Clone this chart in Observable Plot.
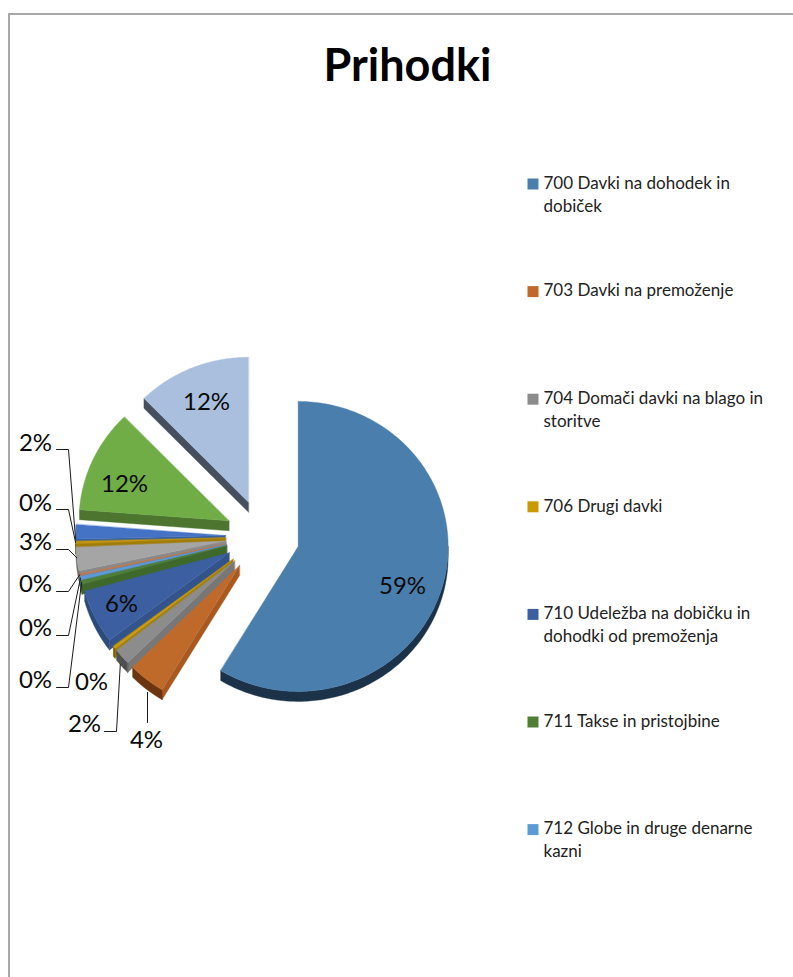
<!DOCTYPE html>
<html lang="sl">
<head>
<meta charset="utf-8">
<script src="https://cdn.jsdelivr.net/npm/d3@7"></script>
<script src="https://cdn.jsdelivr.net/npm/@observablehq/plot@0.6"></script>
<style>
html,body{margin:0;padding:0;background:#fff;overflow:hidden}
#frame{position:absolute;left:8px;top:13px;right:0;bottom:0;border-left:2px solid #a8a8a8;border-top:2px solid #a8a8a8}
#chart{position:absolute;left:0;top:0}
#chart svg{display:block;background:transparent}
</style>
</head>
<body>
<div id="frame"></div>
<div id="chart"></div>
<script>
// ---- data ----
const titleText = "Prihodki";
const legendNames = [
  "700 Davki na dohodek in\ndobiček",
  "703 Davki na premoženje",
  "704 Domači davki na blago in\nstoritve",
  "706 Drugi davki",
  "710 Udeležba na dobičku in\ndohodki od premoženja",
  "711 Takse in pristojbine",
  "712 Globe in druge denarne\nkazni"
];
const sliceValues = [58.7, 4.0, 1.8, 0.3, 6.0, 0.4, 0.4, 0.2, 2.6, 0.3, 1.6, 11.5, 12.3];
const sliceTop   = ["#4a7ead","#bf692b","#8c8c8c","#c99a06","#3b5fa0","#4e7f35","#5b9bd5","#c0784c","#a5a5a5","#c4960c","#4472c4","#70ad47","#a9bfdd"];
const sliceSide  = ["#1b3249","#a9591f","#777777","#a67f05","#32538c","#3f682b","#4a82b4","#a5623a","#8a8a8a","#a27c08","#37609f","#4d7530","#454f5e"];
const sliceRim   = ["#1b3249","#6b3510","#4f4f4f","#7a5e04","#2c4a7a","#33531f","#3a6890","#7c4a2c","#6b6b6b","#7a5e05","#2d4f8a","#3d5c26","#3c4653"];

// ---- layout (pie geometry and where the labels sit) ----
const pie = {cx: 262, cy: 536, rx: 150, ry: 145, explode: 37, depth: 10};
const inside = [
  {i: 0, x: 402, y: 586},
  {i: 4, x: 121, y: 604},
  {i: 11, x: 124, y: 484},
  {i: 12, x: 206, y: 402}
];
// label anchor, elbow x and how far along the slice's outer arc the leader ends
const outside = [
  {i: 10, x: 35, y: 443, ex: 56, elbow: 68, ly: 449, f: 0, wall: 0},
  {i: 9,  x: 35, y: 503, ex: 56, elbow: 68, ly: 509, f: 0.5, wall: 0},
  {i: 8,  x: 35, y: 542, ex: 56, elbow: 68, ly: 549, f: 0.55, wall: 0},
  {i: 7,  x: 35, y: 584, ex: 56, elbow: 68, ly: 591, f: 0.5, wall: 0},
  {i: 6,  x: 35, y: 628, ex: 56, elbow: 68, ly: 635, f: 0.5, wall: 0},
  {i: 5,  x: 35, y: 680, ex: 56, elbow: 68, ly: 687, f: 0.5, wall: 0},
  {i: 2,  x: 84, y: 724, ex: 104, elbow: 116, ly: 731, f: 0.65, wall: 1}
];
const free = [{i: 3, x: 91, y: 682}];
const straight = [{i: 1, x: 146, y: 740, ex: 147, ey: 722, f: 0.36, wall: 1}];
const legendLayout = {sx: 532.5, tx: 543, y0: 183.5, step: 107.6};

const FONT = "Lato, 'Open Sans', sans-serif";

// ---- geometry from the values ----
const arcs = d3.pie().sort(null).startAngle(0).endAngle(2 * Math.PI)(sliceValues);
const slices = arcs.map((a, i) => {
  const mid = (a.startAngle + a.endAngle) / 2;
  return {
    i, a0: a.startAngle, a1: a.endAngle,
    ax: pie.cx + pie.explode * Math.sin(mid),
    ay: pie.cy - pie.explode * Math.cos(mid)
  };
});
const rimPoint = (s, a, dy = 0) => ({x: s.ax + pie.rx * Math.sin(a), y: s.ay - pie.ry * Math.cos(a) + dy});
const arcPts = (s, a0, a1, dy = 0) => {
  const n = Math.max(2, Math.ceil((a1 - a0) * 60));
  return d3.range(n + 1).map(k => rimPoint(s, a0 + (a1 - a0) * k / n, dy));
};
const polys = [];
const pushPoly = (id, color, pts) => pts.forEach(p => polys.push({id, color, x: p.x, y: p.y}));
// far slices first, so that the nearer ones cover them
[...slices].reverse().forEach(s => {
  const {i, a0, a1, ax, ay} = s;
  const d = pie.depth;
  if (a0 > Math.PI) {
    const o = rimPoint(s, a0);
    pushPoly(`s${i}`, sliceSide[i], [{x: ax, y: ay}, o, {x: o.x, y: o.y + d}, {x: ax, y: ay + d}]);
  }
  const lo = Math.max(a0, Math.PI / 2), hi = Math.min(a1, 3 * Math.PI / 2);
  if (hi > lo) {
    pushPoly(`r${i}`, sliceRim[i], [...arcPts(s, lo, hi), ...arcPts(s, lo, hi, d).reverse()]);
  }
  pushPoly(`t${i}`, sliceTop[i], [{x: ax, y: ay}, ...arcPts(s, a0, a1)]);
});

const pct = i => `${Math.round(sliceValues[i])}%`;
const leaderEnd = l => {
  const s = slices[l.i];
  return rimPoint(s, s.a0 + (s.a1 - s.a0) * l.f, l.wall ? pie.depth : 0);
};
const leaders = [];
outside.forEach((l, k) => {
  const e = leaderEnd(l);
  [{x: l.ex, y: l.ly}, {x: l.elbow, y: l.ly}, e].forEach(p => leaders.push({k, ...p}));
});
straight.forEach((l, k) => {
  const e = leaderEnd(l);
  [{x: l.ex, y: l.ey}, {x: l.ex, y: e.y}].forEach(p => leaders.push({k: `v${k}`, ...p}));
});

const legendRows = legendNames.map((name, i) => ({
  name, color: sliceTop[i], y: legendLayout.y0 + i * legendLayout.step
}));

const chart = Plot.plot({
  width: 793, height: 977, margin: 0,
  style: {background: "transparent", fontFamily: FONT},
  x: {domain: [0, 793], range: [0, 793], axis: null},
  y: {domain: [0, 977], range: [0, 977], axis: null},
  color: {type: "identity"},
  marks: [
    Plot.line(polys, {x: "x", y: "y", z: "id", fill: "color", stroke: "color", strokeWidth: 0.4, curve: "linear-closed"}),
    Plot.line(leaders, {x: "x", y: "y", z: "k", stroke: "#1a1a1a", strokeWidth: 1}),
    Plot.text(inside, {x: "x", y: "y", text: d => pct(d.i), fontSize: 24, fill: "#0a0a0a", fontFamily: FONT}),
    Plot.text([...outside, ...free, ...straight], {x: "x", y: "y", text: d => pct(d.i), fontSize: 24, fill: "#0a0a0a", fontFamily: FONT}),
    Plot.text([titleText], {x: () => 407, y: () => 66, text: d => d, fontSize: 45, fontWeight: 700, fill: "#000", fontFamily: FONT}),
    Plot.dot(legendRows, {x: () => legendLayout.sx, y: "y", symbol: "square", r: 6.2, fill: "color", stroke: "none"}),
    Plot.text(legendRows, {x: () => legendLayout.tx, y: d => d.y - 11.5, text: "name", textAnchor: "start", lineAnchor: "top", lineHeight: 1.35, fontSize: 17, fill: "#222", fontFamily: FONT})
  ]
});
document.getElementById("chart").appendChild(chart);
</script>
</body>
</html>
